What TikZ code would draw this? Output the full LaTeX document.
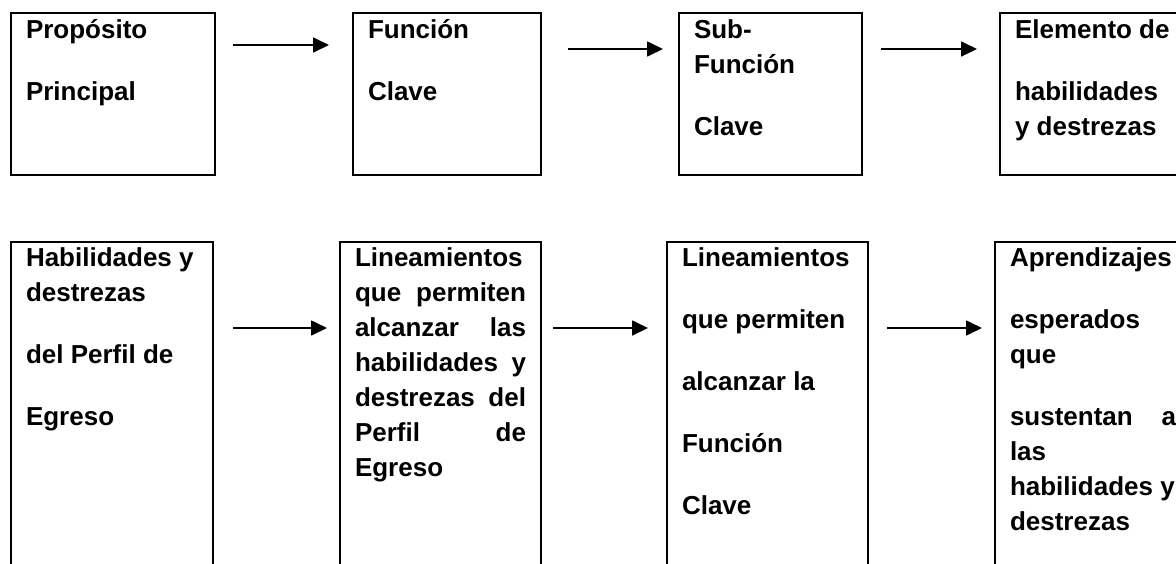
\documentclass[tikz,border=0pt]{standalone}
\usepackage{fontspec}
\setmainfont{Liberation Sans}
\usetikzlibrary{arrows.meta,calc}

\begin{document}
\begin{tikzpicture}[x=1pt, y=-1pt, >={Triangle[length=8pt,width=7.5pt]}]
        \tikzset{caja/.style={draw, line width=1.1pt, outer sep=0pt, anchor=north west, align=flush left, inner xsep=7.5pt, inner ysep=3pt, font=\fontsize{13}{17.5}\selectfont\bfseries}}
        \tikzset{arriba/.style={caja, text height=9.5pt, text depth=65.5pt}}
        \tikzset{abajo/.style={caja, text height=9pt, text depth=165pt}}
        \tikzset{flecha/.style={->, line width=0.85pt}}
        \useasboundingbox (0,0) rectangle (588,281.5);
        \clip (0,0) rectangle (588,281.5);
        \node[arriba, text width=87pt] (prop) at (5.5,6.5) {Propósito\\[13.5pt]Principal};
        \node[arriba, text width=79pt] (func) at (176.5,6.5) {Función\\[13.5pt]Clave};
        \node[arriba, text width=76.5pt] (subf) at (339.5,6.5) {Sub-\\Función\\[13.5pt]Clave};
        \node[arriba, text width=85pt] (elem) at (500,6.5) {Elemento de\\[13.5pt]habilidades\\y destrezas};
        \node[abajo, text width=86pt] (hab) at (5.5,121) {Habilidades~y\\destrezas\\[13.5pt]del Perfil de\\[13.5pt]Egreso};
        \node[abajo, text width=85.5pt] (linh) at (170,121) {Lineamientos\\que\hfill permiten\\alcanzar\hfill las\\habilidades\hfill y\\destrezas\hfill del\\Perfil\hfill de\\Egreso};
        \node[abajo, text width=85.5pt] (linf) at (333.5,121) {Lineamientos\\[13.5pt]que permiten\\[13.5pt]alcanzar la\\[13.5pt]Función\\[13.5pt]Clave};
        \node[abajo, text width=83pt] (apr) at (497.5,121) {Aprendizajes\\[13.5pt]esperados\\que\\[13.5pt]sustentan\hfill a\\las\\habilidades~y\\destrezas};
        \draw[flecha] ($(prop.north east)+(9,16)$) -- ($(func.north west)+(-12,16)$);
        \draw[flecha] ($(func.north east)+(13.5,18)$) -- ($(subf.north west)+(-8,18)$);
        \draw[flecha] ($(subf.north east)+(9.5,18)$) -- ($(elem.north west)+(-11.5,18)$);
        \draw[flecha] ($(hab.north east)+(10,43)$) -- ($(linh.north west)+(-6.5,43)$);
        \draw[flecha] ($(linh.north east)+(6,43)$) -- ($(linf.north west)+(-9.5,43)$);
        \draw[flecha] ($(linf.north east)+(9.5,43)$) -- ($(apr.north west)+(-6.5,43)$);
    \end{tikzpicture}
\end{document}
